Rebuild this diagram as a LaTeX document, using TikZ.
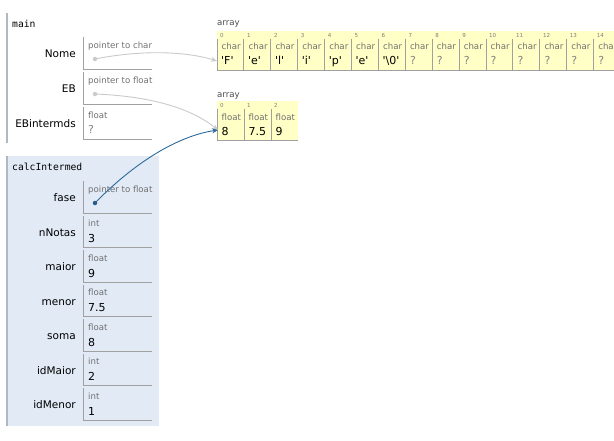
\documentclass[tikz,border=0pt]{standalone}
\usepackage{fontspec}
\setmainfont{DejaVu Sans}
\setmonofont{DejaVu Sans Mono}
\usetikzlibrary{arrows.meta}
\definecolor{frameblue}{HTML}{E2EAF5}
\definecolor{cellyellow}{HTML}{FFFFC6}
\definecolor{linegray}{HTML}{A0A0A0}
\definecolor{bargray}{HTML}{B0B8C0}
\definecolor{typegray}{HTML}{707070}
\definecolor{ptrgray}{HTML}{CACACA}
\definecolor{ptrblue}{HTML}{2D6A99}
\newcommand\sq{\textquotesingle}
\begin{document}
\begin{tikzpicture}[x=1pt,y=-1pt,
  varlbl/.style={anchor=base east,inner sep=0pt,font=\fontsize{10.5}{12}\selectfont},
  typetxt/.style={anchor=base west,inner sep=0pt,text=typegray,font=\fontsize{8.6}{10}\selectfont},
  valtxt/.style={anchor=base west,inner sep=0pt,font=\fontsize{11}{13}\selectfont},
  unkn/.style={valtxt,text=typegray!85},
  idxtxt/.style={anchor=base west,inner sep=0pt,text=typegray!90,font=\fontsize{5.5}{6}\selectfont},
  arrlbl/.style={anchor=base west,inner sep=0pt,text=black!70,font=\fontsize{8.6}{10}\selectfont},
  frametitle/.style={anchor=base west,inner sep=0pt,font=\ttfamily\fontsize{9.7}{11}\selectfont},
  boxline/.style={draw=linegray,line width=0.9pt},
  bar/.style={draw=bargray,line width=1.5pt},
  ptrdot/.style={circle,fill=ptrgray,inner sep=0pt,minimum size=4.5pt},
  ptrdotb/.style={circle,fill=ptrblue!85!black,inner sep=0pt,minimum size=4.5pt},
  ptrline/.style={draw=ptrgray,line width=0.9pt,-{Stealth[length=6pt,width=5pt]}},
  ptrlineb/.style={draw=ptrblue,line width=0.9pt,-{Stealth[length=6pt,width=5pt]}}
]
\useasboundingbox (0,0) rectangle (614,440);
\clip (0,0) rectangle (614,440);

% ---------- frames ----------
\fill[frameblue] (6,156) rectangle (159,426);
\draw[bar] (7,13) -- (7,143);
\draw[bar] (7,156) -- (7,426);
\node[frametitle] (mainT) at (12,27) {main};
\node[frametitle] (calcT) at (12,170) {calcIntermed};

% ---------- main variables ----------
\draw[boxline] (83,37) -- (83,69) -- (152,69);
\node[varlbl] (lNome) at (76,57) {Nome};
\node[typetxt] (tNome) at (88,48) {pointer to char};
\node[ptrdot] (dNome) at (95,59) {};

\draw[boxline] (83,72) -- (83,104) -- (152,104);
\node[varlbl] (lEB) at (76,92.5) {EB};
\node[typetxt] (tEB) at (88,83) {pointer to float};
\node[ptrdot] (dEB) at (95,94) {};

\draw[boxline] (83,107) -- (83,139) -- (152,139);
\node[varlbl] (lEBi) at (76,127.5) {EBintermds};
\node[typetxt] (tEBi) at (88,118) {float};
\node[unkn] (vEBi) at (88,133) {?};

% ---------- calcIntermed variables ----------
\draw[boxline] (83,181) -- (83,213) -- (152,213);
\node[varlbl] (lfase) at (76,201.5) {fase};
\node[typetxt] (tfase) at (88,192) {pointer to float};
\node[ptrdotb] (dfase) at (95,203) {};

\foreach \tp/\nm/\ty/\vl in {215.5/nNotas/int/3, 250/maior/float/9, 284.5/menor/float/7.5, 319/soma/float/8, 353.5/idMaior/int/2, 388/idMenor/int/1}{
  \draw[boxline] (83,\tp) -- (83,\tp+32) -- (152,\tp+32);
  \node[varlbl] (l\nm) at (76,\tp+20.5) {\nm};
  \node[typetxt] (t\nm) at (88,\tp+11) {\ty};
  \node[valtxt] (v\nm) at (88,\tp+27) {\vl};
}

% ---------- char array ----------
\node[arrlbl] (aChar) at (217,25) {array};
\fill[cellyellow] (217,31) rectangle (620,70);
\foreach \vl [count=\i from 0] in {\sq F\sq,\sq e\sq,\sq l\sq,\sq i\sq,\sq p\sq,\sq e\sq,\sq\textbackslash0\sq}{
  \pgfmathsetmacro\xx{217+\i*26.9}
  \node[valtxt] (c\i) at (\xx+4,64.5) {\vl};
}
\foreach \i in {7,...,14}{
  \pgfmathsetmacro\xx{217+\i*26.9}
  \node[unkn] (c\i) at (\xx+4.5,64.5) {?};
}
\foreach \i in {0,...,14}{
  \pgfmathsetmacro\xx{217+\i*26.9}
  \node[idxtxt] (ci\i) at (\xx+3,37) {\i};
  \node[typetxt] (ct\i) at (\xx+4.5,49.5) {char};
  \draw[draw=linegray,line width=0.9pt] (\xx,38.5) -- (\xx,70);
}
\draw[draw=linegray,line width=0.9pt] (217,70) -- (620,70);
\coordinate (tgtF) at (217,61);

% ---------- float array ----------
\node[arrlbl] (aFloat) at (217,97) {array};
\fill[cellyellow] (217,101) rectangle (298,140);
\foreach \vl [count=\i from 0] in {8,7.5,9}{
  \pgfmathsetmacro\xx{217+\i*27}
  \node[idxtxt] (fi\i) at (\xx+3,107) {\i};
  \node[typetxt] (ft\i) at (\xx+4.5,120) {float};
  \node[valtxt] (f\i) at (\xx+4.5,135) {\vl};
  \draw[draw=linegray,line width=0.9pt] (\xx,108.5) -- (\xx,140);
}
\draw[draw=linegray,line width=0.9pt] (217,140) -- (298,140);
\coordinate (tgt8) at (218,130);

% ---------- pointers ----------
\draw[ptrline] (dNome.center) .. controls (140,50) and (185,51) .. (tgtF);
\draw[ptrline] (dEB.center) .. controls (145,96) and (188,106) .. (tgt8);
\draw[ptrlineb] (dfase.center) .. controls (135,162) and (178,136) .. (tgt8);
\end{tikzpicture}
\end{document}
